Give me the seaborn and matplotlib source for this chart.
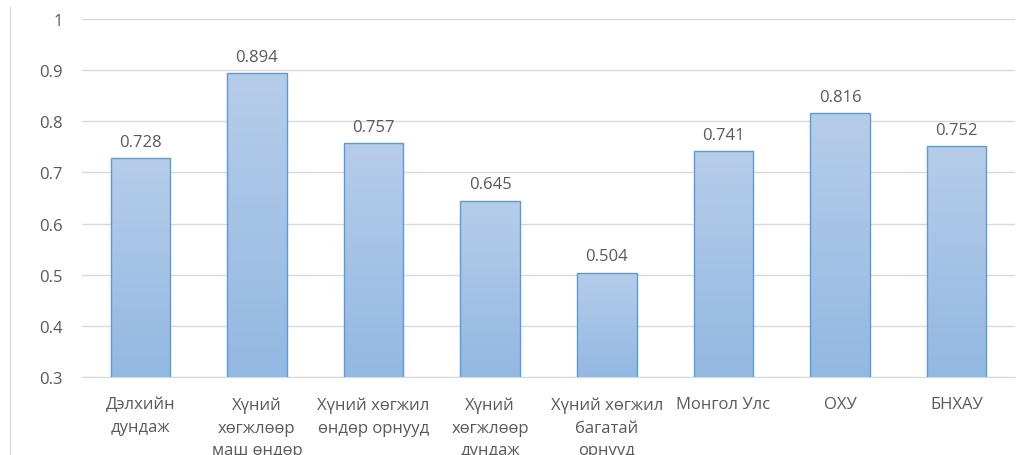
import numpy as np
import pandas as pd
import matplotlib
matplotlib.use("Agg")
import matplotlib.pyplot as plt
import seaborn as sns
from matplotlib.colors import LinearSegmentedColormap
from matplotlib.lines import Line2D

categories = ["Дэлхийн\nдундаж", "Хүний\nхөгжлөөр\nмаш өндөр", "Хүний хөгжил\nөндөр орнууд",
              "Хүний\nхөгжлөөр\nдундаж", "Хүний хөгжил\nбагатай\nорнууд", "Монгол Улс", "ОХУ", "БНХАУ"]
values = [0.728, 0.894, 0.757, 0.645, 0.504, 0.741, 0.816, 0.752]
yticks = [0.3, 0.4, 0.5, 0.6, 0.7, 0.8, 0.9, 1.0]
ytick_labels = ["0.3", "0.4", "0.5", "0.6", "0.7", "0.8", "0.9", "1"]

df = pd.DataFrame({"cat": categories, "val": values})

sns.set_style("white")
plt.rcParams['font.family'] = ['Open Sans', 'DejaVu Sans']
txt = "#595959"
fs = 12

fig = plt.figure(figsize=(10.26, 4.56), dpi=100)
ax = fig.add_axes([82 / 1026, 1 - 378 / 456, (1015 - 82) / 1026, 358 / 456])

sns.barplot(data=df, x="cat", y="val", ax=ax, width=0.51, color="#a9c5e8",
            edgecolor="#5b9bd5", linewidth=1.0, zorder=3)
ax.set_ylim(0.3, 1.0)
ax.set_xlim(-0.5, len(categories) - 0.5)

# vertical gradient in each bar
cmap = LinearSegmentedColormap.from_list("g", ["#93b8e2", "#b6cdea"])
grad = np.linspace(0, 1, 256).reshape(-1, 1)
for p in ax.patches:
    x0, y0 = p.get_x(), p.get_y()
    w, h = p.get_width(), p.get_height()
    im = ax.imshow(grad, cmap=cmap, aspect="auto", origin="lower",
                   extent=[x0, x0 + w, 0.3, y0 + h], zorder=3.5)
    im.set_clip_path(p)
    p.set_facecolor("none")
    p.set_zorder(4)

for i, v in enumerate(values):
    ax.text(i, v + 0.016, f"{v:.3f}", ha="center", va="bottom",
            fontsize=fs, color=txt)

ax.set_yticks(yticks)
ax.set_yticklabels(ytick_labels)
ax.yaxis.grid(True, color="#d9d9d9", linewidth=1.0, zorder=0)
ax.set_axisbelow(True)
for s in ["left", "right", "top"]:
    ax.spines[s].set_visible(False)
ax.spines["bottom"].set_color("#d9d9d9")
ax.tick_params(axis="y", length=0, pad=14, labelsize=fs, labelcolor=txt)
ax.tick_params(axis="x", length=0, pad=14, labelsize=fs, labelcolor=txt)
for lab in ax.get_xticklabels():
    lab.set_linespacing(1.55)
ax.set_xlabel("")
ax.set_ylabel("")

fig.add_artist(Line2D([10 / 1026, 10 / 1026], [0, 1 - 8 / 456], color="#d9d9d9", linewidth=1.0))

fig.savefig("out.png", dpi=100)
